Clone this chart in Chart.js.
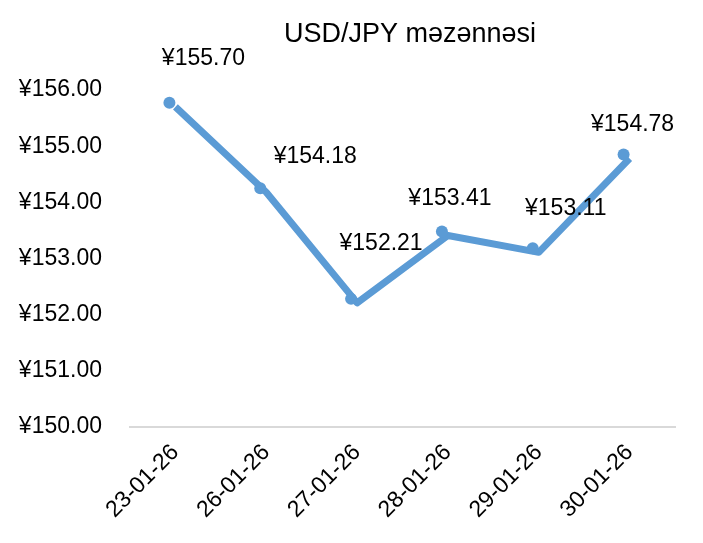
<!DOCTYPE html>
<html>
<head>
<meta charset="utf-8">
<script src="https://cdn.jsdelivr.net/npm/chart.js@4/dist/chart.umd.min.js"></script>
<style>
html,body{margin:0;padding:0;background:#fff;}
#wrap{width:703px;height:543px;}
</style>
</head>
<body>
<div id="wrap"><canvas id="c" width="703" height="543"></canvas></div>
<script>
const titleText = 'USD/JPY məzənnəsi';
const categories = ['23-01-26','26-01-26','27-01-26','28-01-26','29-01-26','30-01-26'];
const rates = [155.70, 154.18, 152.21, 153.41, 153.11, 154.78];
const yMin = 150, yMax = 156, yStep = 1;

// label offsets (style only): dx, dy from point in px
const labelShift = [[28,-48],[49,-36],[24,-59],[2,-37],[27,-44],[3,-34]];
const FONT = '"Liberation Sans", Arial, sans-serif';
const COLOR = '#5B9BD5';
const fmt = v => '¥' + v.toFixed(2);

const overlay = {
  id: 'overlay',
  afterDatasetsDraw(chart) {
    const ctx = chart.ctx;
    const meta = chart.getDatasetMeta(0);
    ctx.save();
    // markers
    ctx.fillStyle = COLOR;
    meta.data.forEach(p => {
      ctx.beginPath();
      ctx.arc(p.x - 6, p.y - 4, 6, 0, Math.PI * 2);
      ctx.fill();
    });
    // data labels
    ctx.fillStyle = '#000';
    ctx.font = '23px ' + FONT;
    ctx.textAlign = 'center';
    ctx.textBaseline = 'middle';
    meta.data.forEach((p, i) => {
      const s = labelShift[i];
      ctx.fillText(fmt(rates[i]), p.x + s[0], p.y + s[1]);
    });
    // title
    ctx.font = '27px ' + FONT;
    ctx.textBaseline = 'alphabetic';
    ctx.fillText(titleText, 410, 42);
    ctx.restore();
  }
};

new Chart(document.getElementById('c'), {
  type: 'line',
  data: {
    labels: categories,
    datasets: [{
      data: rates,
      borderColor: COLOR,
      backgroundColor: COLOR,
      borderWidth: 7,
      pointRadius: 0,
      tension: 0,
      borderJoinStyle: 'round'
    }]
  },
  options: {
    responsive: false,
    animation: false,
    layout: { padding: { top: 90, left: 18, right: 28, bottom: 0 } },
    plugins: { legend: { display: false }, tooltip: { enabled: false }, title: { display: false } },
    scales: {
      x: {
        offset: true,
        grid: { display: false, drawTicks: false },
        border: { display: true, color: '#d9d9d9', width: 2 },
        ticks: { color: '#000', font: { family: FONT, size: 23 }, minRotation: 45, maxRotation: 45, padding: 12 },
        afterFit(s) { s.height = 116; }
      },
      y: {
        min: yMin, max: yMax,
        grid: { display: false, drawTicks: false },
        border: { display: false },
        ticks: { stepSize: yStep, color: '#000', font: { family: FONT, size: 23 }, padding: 28, callback: v => fmt(v) },
        afterFit(s) { s.width = 112; }
      }
    }
  },
  plugins: [overlay]
});
</script>
</body>
</html>
